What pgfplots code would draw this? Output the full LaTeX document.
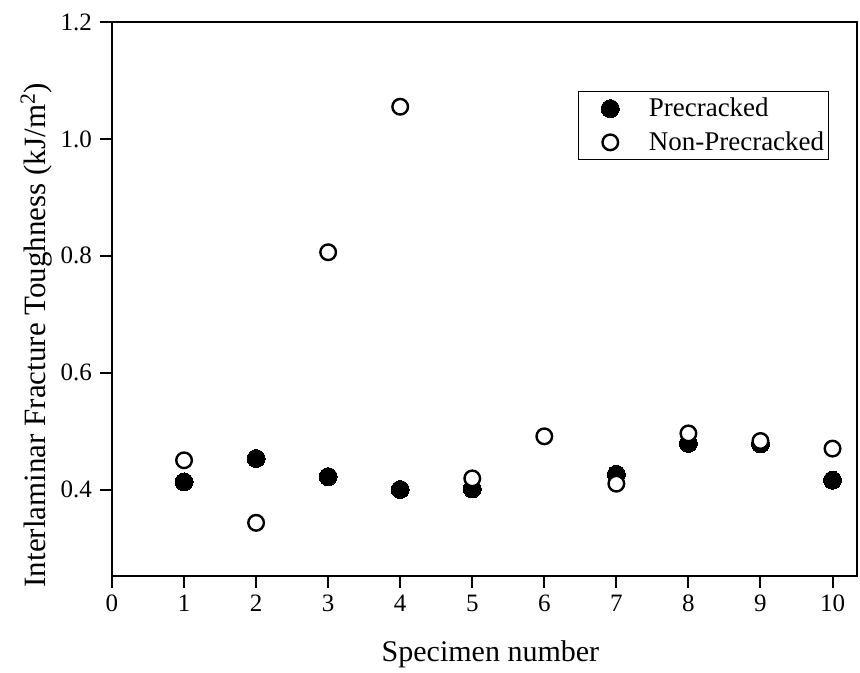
\documentclass[border=0pt]{standalone}
\usepackage{pgfplots}
\pgfplotsset{compat=1.18}
\usepackage{fontspec}
\setmainfont{Liberation Serif}
\begin{document}
\begin{tikzpicture}
\begin{axis}[
  scale only axis,
  width=372.5pt, height=277pt,
  xmin=0, xmax=10.34,
  ymin=0.252, ymax=1.2,
  xtick={0,1,...,10},
  ytick={0.4,0.6,0.8,1.0,1.2},
  yticklabel style={xshift=-0.5pt,/pgf/number format/.cd,fixed,fixed zerofill,precision=1},
  /pgf/number format/assume math mode=true,
  tick align=outside,
  tick pos=left,
  major tick length=6pt,
  axis line style={line width=1pt},
  every tick/.style={line width=1pt, black},
  tick label style={font=\fontsize{12.5}{14}\selectfont},
  label style={font=\fontsize{15}{18}\selectfont},
  xlabel={Specimen number},
  xlabel style={at={(axis description cs:0.508,-0.155)}, anchor=base},
  ylabel={Interlaminar Fracture Toughness (kJ/m\textsuperscript{2})},
  ylabel style={at={(axis description cs:-0.0895,0.435)}, anchor=base, font=\fontsize{15.5}{18}\selectfont},
  legend style={at={(0.962,0.875)}, anchor=north east, draw=black, line width=0.5pt,
    font=\fontsize{13.5}{16}\selectfont, row sep=2pt, inner xsep=0pt, inner ysep=1pt},
  legend cell align=left,
  legend image code/.code={\draw[#1] plot coordinates {(0pt,0pt)}; \path (-15.5pt,0pt) (17pt,0pt);},
]
\addplot[only marks, mark=*, mark size=4.5pt, mark options={fill=black, draw=black, line width=0pt}]
coordinates {(1,0.413) (2,0.453) (3,0.422) (4,0.400) (5,0.401) (7,0.426) (8,0.479) (9,0.478) (10,0.416)};
\addlegendentry{Precracked}
\addplot[only marks, mark=*, mark size=3.9pt, mark options={fill=white, draw=black, line width=1.2pt}]
coordinates {(1,0.450) (2,0.343) (3,0.806) (4,1.055) (5,0.419) (6,0.491) (7,0.410) (8,0.496) (9,0.483) (10,0.470)};
\addlegendentry{Non-Precracked}
\end{axis}
\pgfresetboundingbox
\path ([xshift=-56pt,yshift=-48.5pt]current axis.south west) rectangle ([xshift=1.5pt,yshift=11pt]current axis.north east);
\end{tikzpicture}
\end{document}
